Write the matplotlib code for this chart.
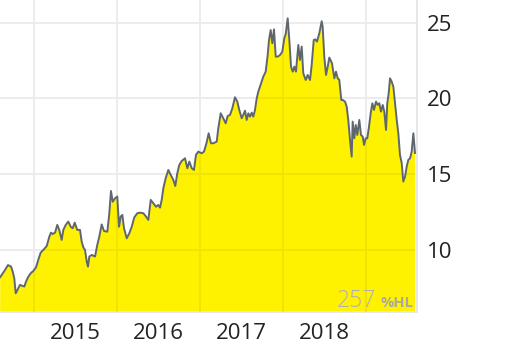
import numpy as np
import matplotlib; matplotlib.use("Agg")
import matplotlib.pyplot as plt

# price history, time in decimal years
t = [2014.592, 2014.650, 2014.686, 2014.723, 2014.743, 2014.762, 2014.779, 2014.791, 2014.810,
     2014.831, 2014.863, 2014.883, 2014.903, 2014.931, 2014.960, 2014.991, 2015.024, 2015.051,
     2015.080, 2015.112, 2015.153, 2015.184, 2015.204, 2015.225, 2015.253, 2015.280, 2015.304,
     2015.333, 2015.353, 2015.382, 2015.413, 2015.442, 2015.466, 2015.490, 2015.521, 2015.554,
     2015.574, 2015.594, 2015.614, 2015.635, 2015.650, 2015.666, 2015.695, 2015.735, 2015.762,
     2015.786, 2015.815, 2015.843, 2015.883, 2015.907, 2015.927, 2015.948, 2015.976, 2016.003,
     2016.024, 2016.044, 2016.064, 2016.084, 2016.117, 2016.148, 2016.177, 2016.208, 2016.244,
     2016.277, 2016.317, 2016.349, 2016.377, 2016.406, 2016.437, 2016.470, 2016.497, 2016.518,
     2016.538, 2016.558, 2016.586, 2016.618, 2016.647, 2016.678, 2016.702, 2016.726, 2016.750,
     2016.779, 2016.819, 2016.847, 2016.871, 2016.900, 2016.927, 2016.951, 2016.979, 2017.020,
     2017.048, 2017.080, 2017.104, 2017.132, 2017.160, 2017.201, 2017.220, 2017.249, 2017.280,
     2017.309, 2017.333, 2017.361, 2017.389, 2017.421, 2017.449, 2017.473, 2017.502, 2017.521,
     2017.542, 2017.562, 2017.582, 2017.602, 2017.623, 2017.642, 2017.662, 2017.683, 2017.702,
     2017.735, 2017.762, 2017.791, 2017.815, 2017.831, 2017.851, 2017.871, 2017.891, 2017.912,
     2017.936, 2017.964, 2017.991, 2018.015, 2018.032, 2018.056, 2018.076, 2018.096, 2018.117,
     2018.136, 2018.156, 2018.184, 2018.204, 2018.225, 2018.244, 2018.273, 2018.297, 2018.325,
     2018.345, 2018.370, 2018.389, 2018.409, 2018.437, 2018.466, 2018.478, 2018.497, 2018.518,
     2018.538, 2018.558, 2018.590, 2018.618, 2018.638, 2018.659, 2018.678, 2018.702, 2018.719,
     2018.747, 2018.767, 2018.786, 2018.807, 2018.827, 2018.839, 2018.859, 2018.876, 2018.895,
     2018.919, 2018.939, 2018.960, 2018.976, 2018.996, 2019.015, 2019.036, 2019.056, 2019.076,
     2019.096, 2019.120, 2019.141, 2019.160, 2019.180, 2019.201, 2019.220, 2019.241, 2019.256,
     2019.273, 2019.289, 2019.309, 2019.329, 2019.349, 2019.370, 2019.389, 2019.409, 2019.430,
     2019.449, 2019.470, 2019.490, 2019.509, 2019.530, 2019.550, 2019.570, 2019.590]
price = [8.20, 8.67, 9.00, 8.90, 8.57, 8.13, 7.14, 7.25, 7.47,
         7.69, 7.62, 7.58, 7.90, 8.23, 8.46, 8.61, 8.85, 9.34,
         9.82, 10.00, 10.26, 10.87, 11.14, 11.05, 11.14, 11.65, 11.32,
         10.66, 11.32, 11.65, 11.87, 11.53, 11.43, 11.80, 11.32, 11.32,
         10.55, 10.17, 10.00, 9.23, 8.90, 9.56, 9.67, 9.56, 10.33,
         10.87, 11.68, 11.25, 11.20, 12.42, 13.89, 13.18, 13.41, 13.52,
         11.53, 12.20, 12.31, 11.43, 10.77, 11.10, 11.53, 12.15, 12.42,
         12.46, 12.42, 12.20, 11.98, 13.30, 13.08, 12.85, 12.97, 12.79,
         13.30, 14.07, 14.73, 15.28, 14.95, 14.62, 14.22, 15.06, 15.61,
         15.87, 16.05, 15.39, 15.83, 15.39, 15.28, 16.27, 16.49, 16.38,
         16.49, 17.10, 17.70, 17.04, 17.04, 17.15, 18.03, 19.02, 18.69,
         18.36, 18.84, 18.91, 19.35, 20.08, 19.79, 19.24, 18.69, 18.91,
         19.19, 18.58, 19.02, 18.80, 19.06, 18.80, 19.24, 20.01, 20.45,
         21.00, 21.44, 21.77, 22.87, 23.86, 24.52, 23.64, 24.56, 22.76,
         22.76, 22.87, 23.09, 23.97, 24.25, 25.29, 23.86, 22.10, 21.77,
         22.10, 21.77, 23.53, 22.54, 23.42, 21.66, 21.22, 21.55, 21.22,
         22.21, 23.86, 23.90, 23.75, 24.30, 25.10, 24.70, 22.76, 21.55,
         22.10, 22.70, 22.32, 21.33, 21.77, 21.33, 21.22, 19.90, 19.90,
         19.79, 19.46, 18.58, 17.26, 16.16, 18.47, 17.37, 18.25, 17.59,
         18.58, 17.59, 17.48, 16.93, 17.37, 17.37, 18.14, 19.02, 19.68,
         19.24, 19.79, 19.57, 19.68, 19.13, 19.57, 19.13, 17.92, 19.68,
         20.34, 21.33, 21.11, 20.78, 19.68, 18.58, 17.70, 16.27, 15.72,
         14.51, 14.84, 15.50, 15.94, 16.05, 16.49, 17.70, 16.40]

years = [2015, 2016, 2017, 2018, 2019]
year_labels = ["2015", "2016", "2017", "2018"]
yticks = [10, 15, 20, 25]
perf_value = "257"
perf_unit = "%HL"

plt.rcParams.update({"font.family": ["Open Sans", "DejaVu Sans"]})
fig = plt.figure(figsize=(5.12, 3.46), dpi=100)
ax = fig.add_axes([0, 34 / 346, 417 / 512, 312 / 346])

area = ax.fill_between(t, price, 0, color="#fff200", lw=0, zorder=2)
ax.plot(t, price, color="#5f676e", lw=1.4, zorder=4)

ax.set_xlim(2014.59, 2019.614)
ax.set_ylim(5.9, 26.5)

ax.set_xticks(years)
ax.set_xticklabels([])
ax.set_xticks([y + 0.5 for y in years[:-1]], minor=True)
ax.set_xticklabels(year_labels, minor=True)
ax.set_yticks(yticks)
ax.yaxis.tick_right()
ax.tick_params(axis="both", which="both", length=0, labelsize=16, colors="#222222")
ax.tick_params(axis="x", which="minor", pad=8)
ax.tick_params(axis="y", pad=7)
ax.grid(True, which="major", color="#ebebeb", lw=1.3, zorder=1)
ax.set_axisbelow(True)

# grid shows faintly through the yellow area
clip = area.get_paths()[0]
for y in yticks:
    ln = ax.axhline(y, color="#f0e300", lw=1.3, zorder=3)
    ln.set_clip_path(clip, ax.transData)
for x in years:
    ln = ax.axvline(x, color="#f0e300", lw=1.3, zorder=3)
    ln.set_clip_path(clip, ax.transData)

for s in ("top", "left"):
    ax.spines[s].set_visible(False)
for s in ("right", "bottom"):
    ax.spines[s].set_color("#e6e6e6")
    ax.spines[s].set_linewidth(1.3)

fig.text(376 / 512, 39 / 346, perf_value, ha="right", va="baseline", fontsize=16.5,
         color="#b0b0b0", fontweight="light")
fig.text(413 / 512, 39 / 346, perf_unit, ha="right", va="baseline", fontsize=10.5,
         color="#a8a8a8", fontweight="bold")

fig.savefig("out.png", dpi=100)
